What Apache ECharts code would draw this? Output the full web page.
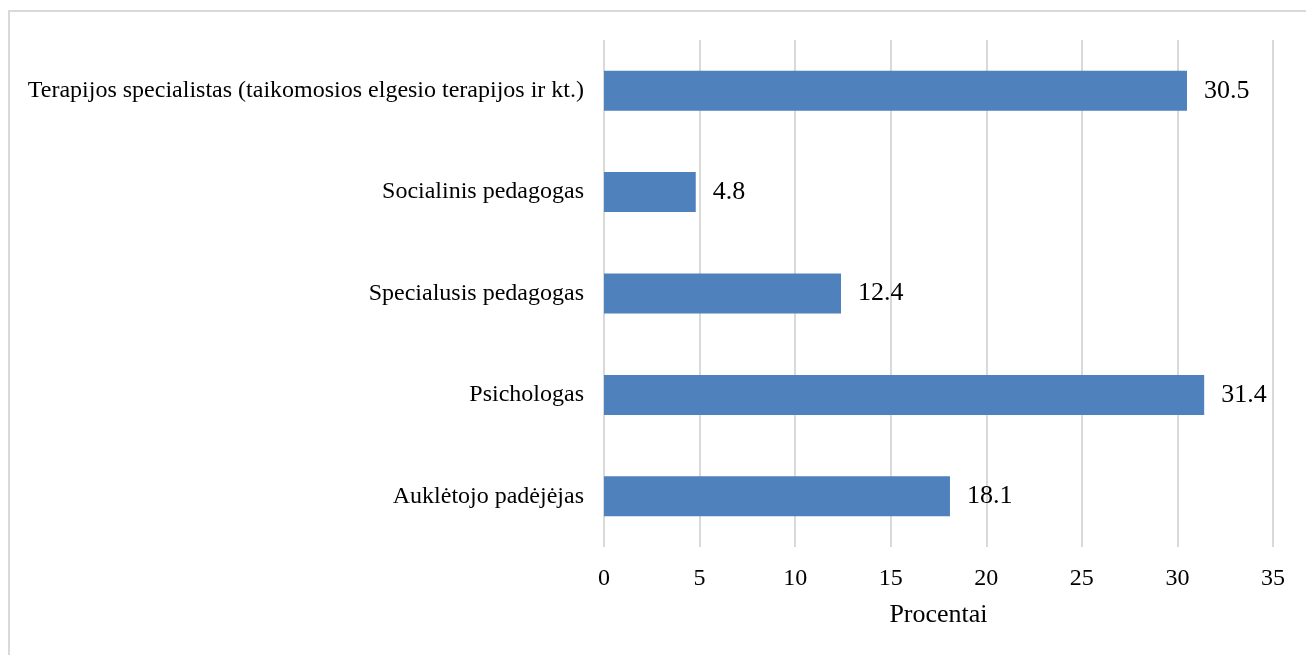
<!DOCTYPE html>
<html>
<head>
<meta charset="utf-8">
<script src="https://cdn.jsdelivr.net/npm/echarts@6/dist/echarts.min.js"></script>
<style>
  html, body { margin: 0; padding: 0; background: #fff; }
  #frame {
    position: absolute; left: 8px; top: 10px; width: 1310px; height: 660px;
    border: 2px solid #d9d9d9; box-sizing: border-box;
  }
  #main { position: absolute; left: 0; top: 0; width: 1306px; height: 655px; }
</style>
</head>
<body>
<div id="frame"></div>
<div id="main"></div>
<script>
  // categories bottom-to-top as ECharts lays out a category y axis
  var categories = [
    "Auklėtojo padėjėjas",
    "Psichologas",
    "Specialusis pedagogas",
    "Socialinis pedagogas",
    "Terapijos specialistas (taikomosios elgesio terapijos ir kt.)"
  ];
  var values = [18.1, 31.4, 12.4, 4.8, 30.5];
  var axisName = "Procentai";

  var myChart = echarts.init(document.getElementById("main"));
  var font = "'Liberation Serif', 'Times New Roman', serif";
  var option = {
    animation: false,
    textStyle: { fontFamily: font },
    grid: { left: 604, right: 33, top: 40, bottom: 108 },
    xAxis: {
      type: "value",
      min: 0,
      max: 35,
      interval: 5,
      name: axisName,
      nameLocation: "middle",
      nameGap: 55,
      nameTextStyle: { fontFamily: font, fontSize: 26, color: "#000" },
      axisLine: { show: false },
      axisTick: { show: false },
      axisLabel: { fontFamily: font, fontSize: 24, color: "#000", margin: 20 },
      splitLine: { show: true, lineStyle: { color: "#d9d9d9", width: 2 } }
    },
    yAxis: {
      type: "category",
      data: categories,
      axisLine: { show: false },
      axisTick: { show: false },
      axisLabel: { fontFamily: font, fontSize: 24, color: "#000", margin: 20 }
    },
    series: [
      {
        type: "bar",
        data: values,
        barWidth: 40,
        itemStyle: { color: "#4f81bd" },
        label: {
          show: true,
          position: "right",
          distance: 17,
          fontFamily: font,
          fontSize: 26,
          color: "#000"
        }
      }
    ]
  };
  option && myChart.setOption(option);
</script>
</body>
</html>
